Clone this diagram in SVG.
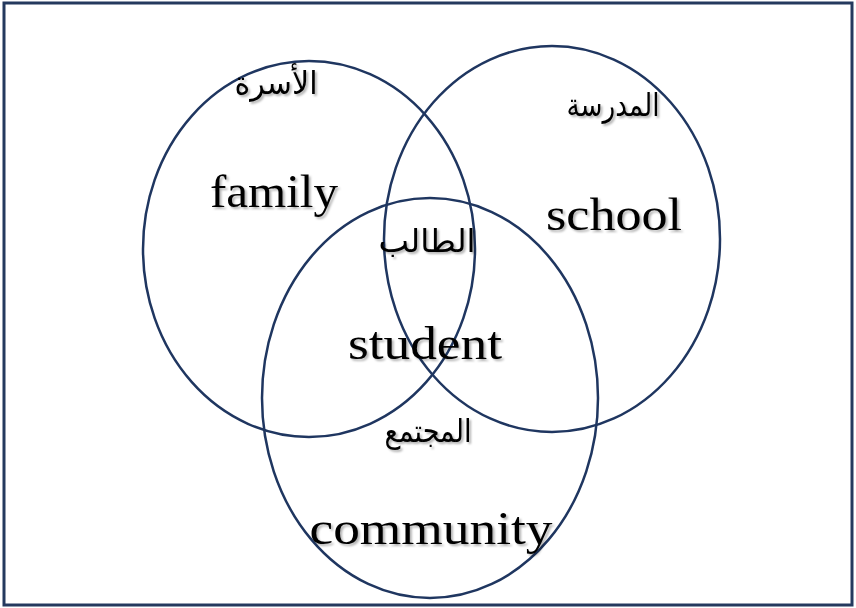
<svg xmlns="http://www.w3.org/2000/svg" width="856" height="608" viewBox="0 0 856 608">
  <style>
    .ring { fill: none; stroke: #1f3660; stroke-width: 2.5; }
    .frame { fill: #ffffff; stroke: #24395e; stroke-width: 3; }
    .en { font-family: "Liberation Serif", "DejaVu Serif", serif; fill: #000; text-anchor: middle; }
    .ar { font-family: "DejaVu Sans", "Noto Sans", sans-serif; fill: #000; text-anchor: middle; font-size: 32px; }
  </style>
  <defs>
    <filter id="soft" x="-10%" y="-20%" width="130%" height="150%">
      <feDropShadow dx="2" dy="2" stdDeviation="1.2" flood-color="#000" flood-opacity="0.3"/>
    </filter>
  </defs>

  <rect class="frame" x="4" y="3" width="848" height="602"/>

  <g id="family">
    <ellipse class="ring" cx="309" cy="249" rx="166" ry="188"/>
    <text class="ar" x="276" y="94" direction="rtl" textLength="83" lengthAdjust="spacingAndGlyphs" filter="url(#soft)">الأسرة</text>
    <text class="en" x="274" y="207" font-size="46" textLength="128" lengthAdjust="spacingAndGlyphs" filter="url(#soft)">family</text>
  </g>

  <g id="school">
    <ellipse class="ring" cx="552" cy="239" rx="168" ry="193"/>
    <text class="ar" x="613" y="116" direction="rtl" textLength="93" lengthAdjust="spacingAndGlyphs" filter="url(#soft)">المدرسة</text>
    <text class="en" x="614" y="230" font-size="46" textLength="136" lengthAdjust="spacingAndGlyphs" filter="url(#soft)">school</text>
  </g>

  <g id="community">
    <ellipse class="ring" cx="430" cy="398" rx="168" ry="200"/>
    <text class="ar" x="428" y="442" direction="rtl" textLength="87" lengthAdjust="spacingAndGlyphs" filter="url(#soft)">المجتمع</text>
    <text class="en" x="431" y="544" font-size="46" textLength="243" lengthAdjust="spacingAndGlyphs" filter="url(#soft)">community</text>
  </g>

  <g id="student">
    <text class="ar" x="427" y="252" direction="rtl" textLength="97" lengthAdjust="spacingAndGlyphs" filter="url(#soft)">الطالب</text>
    <text class="en" x="425" y="359" font-size="46" textLength="154" lengthAdjust="spacingAndGlyphs" filter="url(#soft)">student</text>
  </g>
</svg>
